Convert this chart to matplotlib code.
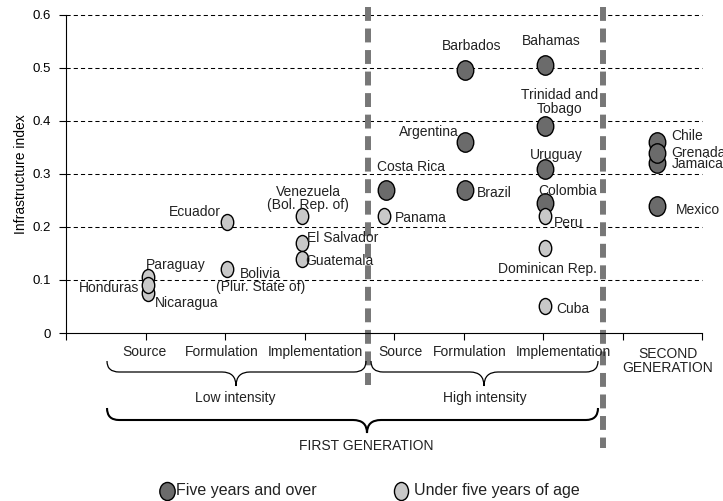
import matplotlib
matplotlib.use('Agg')
import matplotlib.pyplot as plt
from matplotlib.path import Path
from matplotlib.patches import PathPatch
from matplotlib.markers import MarkerStyle
from matplotlib.transforms import Affine2D, blended_transform_factory

plt.rcParams['font.family'] = ['Liberation Sans', 'DejaVu Sans']
plt.rcParams['lines.scale_dashes'] = False

# five years and over (dark circles)
old_names = ['Barbados', 'Bahamas', 'Trinidad and\nTobago', 'Argentina', 'Uruguay',
             'Costa Rica', 'Brazil', 'Colombia', 'Chile', 'Jamaica', 'Grenada', 'Mexico']
old_x = [5.02, 6.03, 6.03, 5.02, 6.03, 4.03, 5.02, 6.03, 7.43, 7.43, 7.43, 7.43]
old_y = [0.495, 0.505, 0.39, 0.36, 0.31, 0.27, 0.27, 0.245, 0.36, 0.32, 0.34, 0.24]

# under five years of age (light circles)
young_names = ['Paraguay', 'Nicaragua', 'Honduras', 'Ecuador', 'Bolivia\n(Plur. State of)',
               'Venezuela\n(Bol. Rep. of)', 'El Salvador', 'Guatemala', 'Panama', 'Peru',
               'Dominican Rep.', 'Cuba']
young_x = [1.03, 1.03, 1.03, 2.03, 2.03, 2.97, 2.97, 2.97, 4.0, 6.03, 6.03, 6.03]
young_y = [0.105, 0.075, 0.09, 0.21, 0.12, 0.22, 0.17, 0.14, 0.22, 0.22, 0.16, 0.05]

stages = ['Source', 'Formulation', 'Implementation', 'Source', 'Formulation', 'Implementation']
y_ticks = [0, 0.1, 0.2, 0.3, 0.4, 0.5, 0.6]
y_ticklabels = ['0', '0.1', '0.2', '0.3', '0.4', '0.5', '0.6']
x_ticks = [0, 1, 2, 3, 4.13, 5, 6, 7, 8]
separators = [3.80, 6.75]

# label offsets in pixels (dx, dy up, alignment)
label_pos = {
    'Barbados': (7, 24, 'center'), 'Bahamas': (6, 24, 'center'),
    'Trinidad and\nTobago': (14, 24, 'center'), 'Argentina': (-6, 10, 'right'),
    'Uruguay': (11, 14, 'center'), 'Costa Rica': (25, 23, 'center'),
    'Brazil': (12, -3, 'left'), 'Colombia': (22, 12, 'center'),
    'Chile': (15, 6, 'left'), 'Jamaica': (15, -1, 'left'), 'Grenada': (15, 0, 'left'),
    'Mexico': (19, -4, 'left'),
    'Paraguay': (-2, 12, 'left'), 'Nicaragua': (7, -10, 'left'), 'Honduras': (-9, -3, 'right'),
    'Ecuador': (-7, 10, 'right'), 'Bolivia\n(Plur. State of)': (33, -11, 'center'),
    'Venezuela\n(Bol. Rep. of)': (6, 18, 'center'), 'El Salvador': (5, 5, 'left'),
    'Guatemala': (3, -2, 'left'), 'Panama': (11, -2, 'left'), 'Peru': (8, -7, 'left'),
    'Dominican Rep.': (2, -21, 'center'), 'Cuba': (11, -3, 'left'),
}

W, H = 723, 501
fig = plt.figure(figsize=(W / 100, H / 100), dpi=100)
ax = fig.add_axes([66 / W, 1 - 333 / H, 636 / W, 318.3 / H])
pix = Affine2D().scale(1 / W, -1 / H).translate(0, 1) + fig.transFigure

ax.set_xlim(0, 8)
ax.set_ylim(0, 0.6)
for s in ['top', 'right']:
    ax.spines[s].set_visible(False)
ax.set_xticks(x_ticks)
ax.set_xticklabels([])
ax.set_yticks(y_ticks)
ax.set_yticklabels(y_ticklabels, fontsize=9.5)
ax.tick_params(axis='both', direction='out', length=5, width=0.8, pad=6)
ax.set_ylabel('Infrastructure index', fontsize=10)
ax.yaxis.set_label_coords(-38 / 636, 0.5)

for v in y_ticks[1:]:
    ax.axhline(v, color='black', lw=0.75, ls=(0, (3, 2.2)), zorder=1, clip_on=False)

# thick grey separators
sep_tr = blended_transform_factory(ax.transData, pix)
for xs, yb in zip(separators, [385, 448]):
    ax.plot([xs, xs], [7, yb], transform=sep_tr, color='#777777', lw=4.3,
            ls=(0, (10, 5.5)), solid_capstyle='butt', clip_on=False, zorder=2)

circle = Path.unit_circle()
dark_m = MarkerStyle(circle.transformed(Affine2D().scale(0.85, 1.0)))
light_m = MarkerStyle(circle.transformed(Affine2D().scale(0.78, 1.0)))

ax.scatter(old_x, old_y, s=14 ** 2, marker=dark_m, facecolor='#6b6b6b',
           edgecolor='black', linewidths=1.0, zorder=3, clip_on=False)
ax.scatter(young_x, young_y, s=11.5 ** 2, marker=light_m, facecolor='#c8c8c8',
           edgecolor='black', linewidths=1.0, zorder=4, clip_on=False)

for names, xs, ys in [(old_names, old_x, old_y), (young_names, young_x, young_y)]:
    for n, x, y in zip(names, xs, ys):
        dx, dy, ha = label_pos[n]
        ax.annotate(n, (x, y), xytext=(dx * 0.72, dy * 0.72), textcoords='offset points',
                    ha=ha, va='center', fontsize=10, linespacing=0.95,
                    multialignment='center', color='#222222', zorder=5)

# stage labels under the axis
for lab, px in zip(stages, [144, 222, 315, 400, 470, 563]):
    fig.text(px / W, 1 - 352 / H, lab, ha='center', va='center', fontsize=10, color='#222222')
fig.text(668 / W, 1 - 361 / H, 'SECOND\nGENERATION', ha='center', va='center',
         fontsize=10, linespacing=0.95, color='#222222')
fig.text(235 / W, 1 - 398 / H, 'Low intensity', ha='center', va='center', fontsize=10, color='#222222')
fig.text(485 / W, 1 - 398 / H, 'High intensity', ha='center', va='center', fontsize=10, color='#222222')
fig.text(366 / W, 1 - 446 / H, 'FIRST GENERATION', ha='center', va='center', fontsize=10, color='#222222')


def brace(x0, x1, xt, yt, ya, yb, lw):
    r, r2 = 12, 14
    verts = [(x0, yt), (x0, ya), (x0 + r, ya), (xt - r2, ya), (xt, ya), (xt, yb),
             (xt, ya), (xt + r2, ya), (x1 - r, ya), (x1, ya), (x1, yt)]
    codes = [Path.MOVETO, Path.CURVE3, Path.CURVE3, Path.LINETO, Path.CURVE3, Path.CURVE3,
             Path.CURVE3, Path.CURVE3, Path.LINETO, Path.CURVE3, Path.CURVE3]
    fig.add_artist(PathPatch(Path(verts, codes), fc='none', ec='black', lw=lw, transform=pix))


brace(107, 366, 236, 361, 372, 386, 0.9)
brace(371, 598, 484, 361, 372, 386, 0.9)
brace(107, 598, 367, 408, 420, 433, 1.5)

# legend
ax.plot([167], [491], marker=dark_m, ms=13, mfc='#6b6b6b', mec='black', mew=1.0,
        transform=pix, clip_on=False, ls='none')
fig.text(176 / W, 1 - 491 / H, 'Five years and over', ha='left', va='center', fontsize=11.5, color='#222222')
ax.plot([401], [491], marker=light_m, ms=13, mfc='#c8c8c8', mec='black', mew=1.0,
        transform=pix, clip_on=False, ls='none')
fig.text(414 / W, 1 - 491 / H, 'Under five years of age', ha='left', va='center', fontsize=11.5, color='#222222')

fig.savefig('out.png', dpi=100)
